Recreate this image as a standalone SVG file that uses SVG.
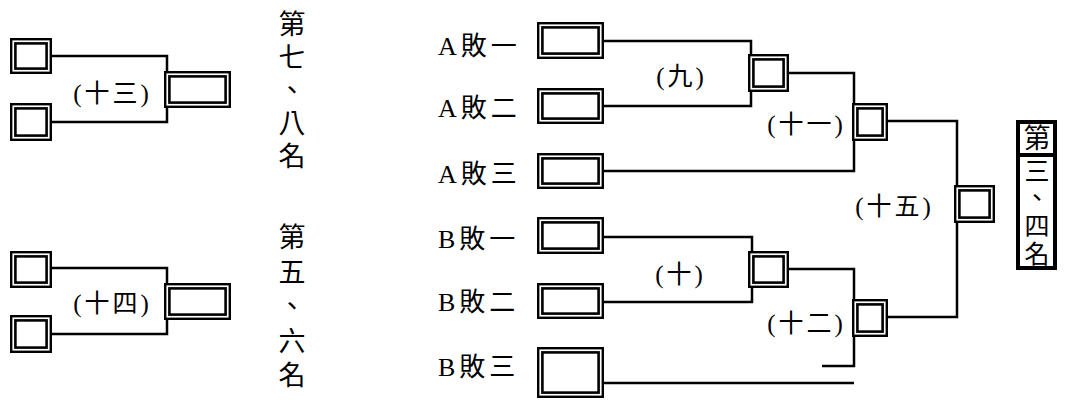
<svg xmlns="http://www.w3.org/2000/svg" width="1065" height="400" viewBox="0 0 1065 400">
<style>
.o{fill:#fff;stroke:#000;stroke-width:2.4}
.i{fill:none;stroke:#000;stroke-width:2.6}
.c{fill:none;stroke:#000;stroke-width:2.5}
.lbl{font-family:"Liberation Serif","Noto Sans CJK TC",serif;font-size:25px;letter-spacing:3px;text-anchor:middle}
.nm{font-family:"Liberation Serif","Noto Sans CJK TC",serif;font-size:26px}
.vt{font-family:"Noto Sans CJK TC",sans-serif;font-size:27px;writing-mode:vertical-rl}
</style>
<rect width="1065" height="400" fill="#fff"/>
<g id="connectors">
<path class="c" d="M52,56 H167 V122 H52"/>
<path class="c" d="M52,268 H167 V334 H52"/>
<path class="c" d="M604,41 H751 V106 H604"/>
<path class="c" d="M604,237 H752 V302 H604"/>
<path class="c" d="M789,73 H854 V171 H604"/>
<path class="c" d="M789,269 H854 V366 H822"/>
<path class="c" d="M604,383 H854"/>
<path class="c" d="M888,121 H957 V317 H888"/>
</g>
<g id="L1"><rect class="o" x="11.2" y="39.2" width="39.6" height="33.6"/><rect class="i" x="15.4" y="43.4" width="31.2" height="25.2"/></g>
<g id="L2"><rect class="o" x="11.2" y="104.2" width="39.6" height="35.6"/><rect class="i" x="15.4" y="108.4" width="31.2" height="27.2"/></g>
<g id="L13"><rect class="o" x="165.2" y="72.2" width="64.6" height="34.6"/><rect class="i" x="169.4" y="76.4" width="56.2" height="26.2"/></g>
<g id="L3"><rect class="o" x="11.2" y="252.2" width="39.6" height="34.6"/><rect class="i" x="15.4" y="256.4" width="31.2" height="26.2"/></g>
<g id="L4"><rect class="o" x="11.2" y="316.2" width="39.6" height="35.6"/><rect class="i" x="15.4" y="320.4" width="31.2" height="27.2"/></g>
<g id="L14"><rect class="o" x="165.2" y="284.2" width="64.6" height="34.6"/><rect class="i" x="169.4" y="288.4" width="56.2" height="26.2"/></g>
<g id="A1"><rect class="o" x="538.2" y="23.2" width="64.6" height="34.6"/><rect class="i" x="542.4" y="27.4" width="56.2" height="26.2"/></g>
<g id="A2"><rect class="o" x="538.2" y="89.2" width="64.6" height="33.6"/><rect class="i" x="542.4" y="93.4" width="56.2" height="25.2"/></g>
<g id="A3"><rect class="o" x="538.2" y="154.2" width="64.6" height="33.6"/><rect class="i" x="542.4" y="158.4" width="56.2" height="25.2"/></g>
<g id="B1"><rect class="o" x="538.2" y="218.2" width="64.6" height="34.6"/><rect class="i" x="542.4" y="222.4" width="56.2" height="26.2"/></g>
<g id="B2"><rect class="o" x="538.2" y="284.2" width="64.6" height="33.6"/><rect class="i" x="542.4" y="288.4" width="56.2" height="25.2"/></g>
<g id="B3"><rect class="o" x="538.2" y="348.2" width="64.6" height="48.6"/><rect class="i" x="542.4" y="352.4" width="56.2" height="40.2"/></g>
<g id="W9"><rect class="o" x="749.2" y="55.2" width="38.6" height="35.6"/><rect class="i" x="753.4" y="59.4" width="30.2" height="27.2"/></g>
<g id="W10"><rect class="o" x="749.2" y="252.2" width="38.6" height="34.6"/><rect class="i" x="753.4" y="256.4" width="30.2" height="26.2"/></g>
<g id="W11"><rect class="o" x="853.2" y="104.2" width="33.6" height="35.6"/><rect class="i" x="857.4" y="108.4" width="25.2" height="27.2"/></g>
<g id="W12"><rect class="o" x="853.2" y="300.2" width="33.6" height="35.6"/><rect class="i" x="857.4" y="304.4" width="25.2" height="27.2"/></g>
<g id="W15"><rect class="o" x="955.2" y="186.2" width="38.6" height="35.6"/><rect class="i" x="959.4" y="190.4" width="30.2" height="27.2"/></g>
<g id="labels">
<text class="lbl" x="112.5" y="102">(十三)</text>
<text class="lbl" x="112.5" y="312">(十四)</text>
<text class="lbl" x="681.5" y="85">(九)</text>
<text class="lbl" x="680.5" y="283">(十)</text>
<text class="lbl" x="806.5" y="133">(十一)</text>
<text class="lbl" x="806.5" y="332">(十二)</text>
<text class="lbl" x="894.5" y="215">(十五)</text>
</g>
<g id="names">
<text class="nm" x="438" y="55">A<tspan dx="4" style="letter-spacing:4px">敗一</tspan></text>
<text class="nm" x="438" y="117">A<tspan dx="4" style="letter-spacing:4px">敗二</tspan></text>
<text class="nm" x="438" y="183">A<tspan dx="4" style="letter-spacing:4px">敗三</tspan></text>
<text class="nm" x="438" y="248">B<tspan dx="4" style="letter-spacing:4px">敗一</tspan></text>
<text class="nm" x="438" y="311">B<tspan dx="4" style="letter-spacing:4px">敗二</tspan></text>
<text class="nm" x="438" y="376">B<tspan dx="4" style="letter-spacing:4px">敗三</tspan></text>
</g>
<g id="rank78"><text class="vt" x="292" y="10" style="letter-spacing:6px">第七、八名</text></g>
<g id="rank56"><text class="vt" x="292" y="223.5" style="letter-spacing:7.5px">第五、六名</text></g>
<g id="rank34">
<rect x="1018" y="122" width="37" height="146" fill="#fff" stroke="#000" stroke-width="4"/>
<line x1="1018" y1="155" x2="1055" y2="155" stroke="#000" stroke-width="4"/>
<text class="vt" x="1037" y="124">第<tspan x="1037" y="157.5" style="font-size:25px;letter-spacing:2.7px">三、四名</tspan></text>
</g>
</svg>
